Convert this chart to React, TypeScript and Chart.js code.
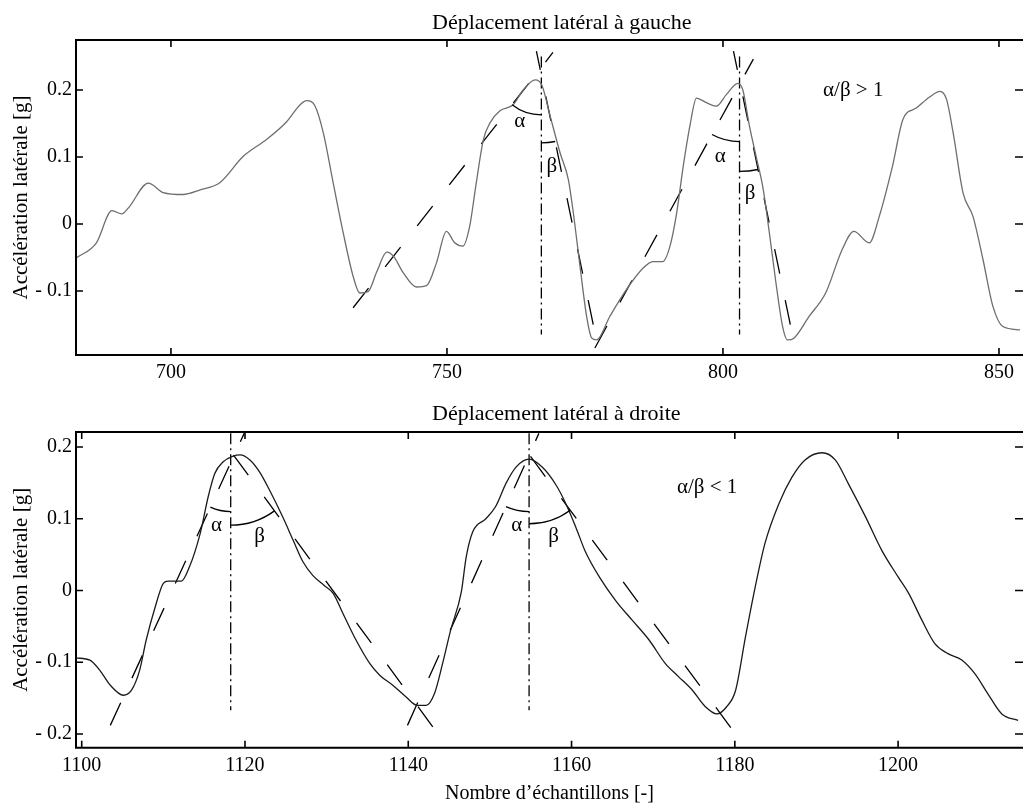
import React, { useEffect, useRef } from 'react';
import { Chart, registerables } from 'chart.js';

Chart.register(...registerables);

const FONT = '"Liberation Serif", "DejaVu Serif", serif';

// ---------- Top panel data ----------
const TOP_TITLE = 'Déplacement latéral à gauche';
const TOP_X_TICKS = [700, 750, 800, 850];
const TOP_Y_TICKS = [-0.1, 0, 0.1, 0.2];
const TOP_X_RANGE = [682.8, 854.35];
const TOP_Y_RANGE = [-0.1955, 0.2746];

const TOP_X = [682.8, 686.5, 689.3, 691.1, 692.3, 695.9, 698.6, 702.2, 705.3, 708.9, 713.1, 717.3, 721, 723.4, 724.6, 726.1, 727.6, 729.4, 731.2, 733, 734.2, 735.7, 737.3, 739.1, 740.3, 742.1, 744.5, 746.3, 748.1, 749.9, 751.4, 752.9, 754.1, 755.3, 756.6, 757.8, 759.6, 762, 763.8, 766, 767.2, 768.7, 770.5, 772, 772.9, 774.1, 775.3, 776.2, 777.1, 779.5, 782.5, 785.5, 787.3, 789.1, 790.4, 791.6, 792.8, 794, 795.2, 797, 798.8, 800.6, 802.7, 803.6, 804.8, 806, 807.2, 808.4, 809.6, 810.8, 811.7, 812.9, 815.6, 818.6, 821.6, 823.7, 826.5, 828.3, 830.7, 832.6, 835, 837.5, 839.3, 840.5, 841.7, 843.5, 845.3, 847.1, 848.9, 850.7, 853.8];
const TOP_Y = [-0.051, -0.028, 0.020, 0.015, 0.024, 0.061, 0.047, 0.044, 0.051, 0.062, 0.101, 0.126, 0.153, 0.178, 0.184, 0.176, 0.136, 0.061, -0.013, -0.078, -0.103, -0.101, -0.071, -0.042, -0.048, -0.073, -0.094, -0.092, -0.058, -0.011, -0.028, -0.033, -0.004, 0.061, 0.126, 0.151, 0.169, 0.178, 0.200, 0.215, 0.207, 0.161, 0.106, 0.066, 0.016, -0.063, -0.138, -0.170, -0.173, -0.138, -0.098, -0.066, -0.056, -0.056, -0.033, 0.016, 0.086, 0.146, 0.188, 0.181, 0.176, 0.193, 0.210, 0.200, 0.146, 0.101, 0.056, -0.013, -0.088, -0.153, -0.173, -0.170, -0.138, -0.103, -0.038, -0.011, -0.028, 0.011, 0.086, 0.156, 0.173, 0.190, 0.198, 0.186, 0.136, 0.046, 0.011, -0.053, -0.123, -0.153, -0.158];

const TOP_TANGENT_X = [[733.0, 769.2], [766.2, 776.5], [776.8, 805.5], [801.9, 812.2]];
const TOP_TANGENT_Y = [[-0.125, 0.256], [0.258, -0.150], [-0.185, 0.246], [0.258, -0.150]];
const TOP_VLINE_X = [767.1, 803.0];
const TOP_VLINE_Y = [0.25, -0.165];

// ---------- Bottom panel data ----------
const BOT_TITLE = 'Déplacement latéral à droite';
const BOT_X_TICKS = [1100, 1120, 1140, 1160, 1180, 1200];
const BOT_Y_TICKS = [-0.2, -0.1, 0, 0.1, 0.2];
const BOT_X_RANGE = [1099.3, 1215.3];
const BOT_Y_RANGE = [-0.2191, 0.2209];

const BOT_X = [1099.3, 1101, 1102.2, 1103.5, 1105.1, 1106.1, 1107.1, 1107.9, 1109, 1110, 1110.6, 1112.2, 1113.2, 1114.5, 1115.5, 1116.3, 1117.3, 1118.5, 1119.4, 1120.6, 1121.8, 1123, 1124.6, 1125.9, 1127.1, 1128.3, 1129.7, 1130.8, 1132, 1133.6, 1135.3, 1136.5, 1138.1, 1139.7, 1141.1, 1142.2, 1143.2, 1144.2, 1145.2, 1146.5, 1147.1, 1147.9, 1149.5, 1150.7, 1152.0, 1153.2, 1154.8, 1156.4, 1158.1, 1159.3, 1160.5, 1161.7, 1163.4, 1165.4, 1167.4, 1169.5, 1171.5, 1173.1, 1174.8, 1176.4, 1177.8, 1179, 1180.1, 1181.3, 1182.5, 1183.7, 1185.4, 1187, 1188.6, 1190.7, 1192.3, 1193.9, 1196, 1198, 1200, 1201.3, 1202.9, 1204.5, 1206.1, 1207.8, 1209.4, 1211, 1212.7, 1214.7];
const BOT_Y = [-0.094, -0.097, -0.111, -0.132, -0.146, -0.139, -0.111, -0.069, -0.023, 0.010, 0.013, 0.013, 0.033, 0.079, 0.131, 0.163, 0.179, 0.187, 0.189, 0.182, 0.165, 0.140, 0.103, 0.070, 0.040, 0.021, 0.007, -0.004, -0.032, -0.069, -0.102, -0.118, -0.132, -0.148, -0.160, -0.160, -0.144, -0.102, -0.055, -0.002, 0.047, 0.082, 0.100, 0.117, 0.150, 0.172, 0.183, 0.172, 0.147, 0.121, 0.089, 0.054, 0.019, -0.014, -0.041, -0.069, -0.102, -0.120, -0.139, -0.162, -0.172, -0.162, -0.139, -0.065, 0.005, 0.066, 0.121, 0.158, 0.182, 0.192, 0.182, 0.149, 0.103, 0.056, 0.019, -0.004, -0.041, -0.074, -0.088, -0.097, -0.116, -0.144, -0.172, -0.181];

const BOT_TANGENT_X = [[1103.5, 1119.9], [1117.1, 1143.0], [1139.9, 1156.0], [1153.6, 1179.5]];
const BOT_TANGENT_Y = [[-0.188, 0.219], [0.212, -0.190], [-0.188, 0.219], [0.208, -0.191]];
const BOT_VLINE_X = [1118.25, 1154.8];
const BOT_VLINE_Y = [0.219, -0.167];

// ---------- annotations (angles and labels, in data units) ----------
const TOP_ARCS = [
  { tangent: 0, vline: 0, meetY: 0.163 },
  { tangent: 1, vline: 0, meetY: 0.121 },
  { tangent: 2, vline: 1, meetY: 0.123 },
  { tangent: 3, vline: 1, meetY: 0.0785 },
];
const BOT_ARCS = [
  { tangent: 0, vline: 0, meetY: 0.110 },
  { tangent: 1, vline: 0, meetY: 0.091 },
  { tangent: 2, vline: 1, meetY: 0.110 },
  { tangent: 3, vline: 1, meetY: 0.093 },
];
const TOP_TEXTS = [
  { text: 'α', x: 763.2, y: 0.153 },
  { text: 'β', x: 769.0, y: 0.086 },
  { text: 'α', x: 799.5, y: 0.101 },
  { text: 'β', x: 804.9, y: 0.046 },
  { text: 'α/β > 1', x: 823.6, y: 0.200 },
];
const BOT_TEXTS = [
  { text: 'α', x: 1116.5, y: 0.091 },
  { text: 'β', x: 1121.8, y: 0.075 },
  { text: 'α', x: 1153.3, y: 0.091 },
  { text: 'β', x: 1157.8, y: 0.075 },
  { text: 'α/β < 1', x: 1176.6, y: 0.144 },
];

const Y_TITLE = 'Accélération latérale [g]';
const X_TITLE = 'Nombre d’échantillons [-]';

const yLabel = (v: number) => (v < 0 ? '- ' + Math.abs(v) : String(v));

const pts = (xs: number[], ys: number[]) => xs.map((x, i) => ({ x, y: ys[i] }));

interface PanelSpec {
  title: string;
  titleBaseline: number;
  xs: number[];
  ys: number[];
  curveColor: string;
  xTicks: number[];
  yTicks: number[];
  xRange: number[];
  yRange: number[];
  tangentX: number[][];
  tangentY: number[][];
  vlineX: number[];
  vlineY: number[];
  arcs: { tangent: number; vline: number; meetY: number }[];
  texts: { text: string; x: number; y: number }[];
  height: number;
  plotBottom: number;
  xTitle: string | null;
}

function buildConfig(spec: PanelSpec): any {
  const datasets: any[] = [
    {
      data: pts(spec.xs, spec.ys),
      showLine: true,
      pointRadius: 0,
      borderColor: spec.curveColor,
      borderWidth: 1.3,
      cubicInterpolationMode: 'monotone',
    },
  ];
  spec.tangentX.forEach((tx, i) => {
    const ty = spec.tangentY[i];
    const order = ty[0] < ty[1] ? [0, 1] : [1, 0];
    datasets.push({
      data: order.map((k) => ({ x: tx[k], y: ty[k] })),
      showLine: true,
      pointRadius: 0,
      borderColor: '#000',
      borderWidth: 1.3,
      borderDash: [25, 27],
    });
  });
  spec.vlineX.forEach((vx) => {
    datasets.push({
      data: spec.vlineY.map((y) => ({ x: vx, y })),
      showLine: true,
      pointRadius: 0,
      borderColor: '#000',
      borderWidth: 1.3,
      borderDash: [11, 4, 2, 4],
    });
  });

  const framePlugin = {
    id: 'frame',
    afterDraw(chart: any) {
      const { ctx, chartArea: a } = chart;
      const xs = chart.scales.x;
      const ys = chart.scales.y;
      ctx.save();
      ctx.strokeStyle = '#000';
      ctx.lineWidth = 2;
      ctx.beginPath();
      ctx.moveTo(a.right + 2, a.top);
      ctx.lineTo(a.left, a.top);
      ctx.lineTo(a.left, a.bottom);
      ctx.lineTo(a.right + 2, a.bottom);
      ctx.stroke();
      ctx.lineWidth = 1.6;
      const L = 7;
      spec.xTicks.forEach((v) => {
        const px = xs.getPixelForValue(v);
        ctx.beginPath();
        ctx.moveTo(px, a.bottom);
        ctx.lineTo(px, a.bottom - L);
        ctx.moveTo(px, a.top);
        ctx.lineTo(px, a.top + L);
        ctx.stroke();
      });
      spec.yTicks.forEach((v) => {
        const py = ys.getPixelForValue(v);
        ctx.beginPath();
        ctx.moveTo(a.left, py);
        ctx.lineTo(a.left + L, py);
        ctx.moveTo(a.right, py);
        ctx.lineTo(a.right - L - 1, py);
        ctx.stroke();
      });
      // panel title
      ctx.fillStyle = '#000';
      ctx.font = `22px ${FONT}`;
      ctx.textAlign = 'left';
      ctx.textBaseline = 'alphabetic';
      ctx.fillText(spec.title, 432, spec.titleBaseline);
      ctx.restore();
    },
  };

  const annotPlugin = {
    id: 'annot',
    afterDatasetsDraw(chart: any) {
      const { ctx } = chart;
      const xs = chart.scales.x;
      const ys = chart.scales.y;
      ctx.save();
      ctx.strokeStyle = '#000';
      ctx.lineWidth = 1.3;
      spec.arcs.forEach((arc) => {
        const tx = spec.tangentX[arc.tangent];
        const ty = spec.tangentY[arc.tangent];
        const p0 = { x: xs.getPixelForValue(tx[0]), y: ys.getPixelForValue(ty[0]) };
        const p1 = { x: xs.getPixelForValue(tx[1]), y: ys.getPixelForValue(ty[1]) };
        const vx = xs.getPixelForValue(spec.vlineX[arc.vline]);
        const t = (vx - p0.x) / (p1.x - p0.x);
        const cy = p0.y + t * (p1.y - p0.y);
        const low = p0.y > p1.y ? p0 : p1;
        const r = ys.getPixelForValue(arc.meetY) - cy;
        const angLine = Math.atan2(low.y - cy, low.x - vx);
        const angDown = Math.PI / 2;
        ctx.beginPath();
        ctx.arc(vx, cy, r, Math.min(angLine, angDown), Math.max(angLine, angDown));
        ctx.stroke();
      });
      ctx.fillStyle = '#000';
      ctx.font = `21px ${FONT}`;
      ctx.textAlign = 'center';
      ctx.textBaseline = 'middle';
      spec.texts.forEach((tx) => {
        ctx.fillText(tx.text, xs.getPixelForValue(tx.x), ys.getPixelForValue(tx.y));
      });
      ctx.restore();
    },
  };

  return {
    type: 'scatter',
    data: { datasets },
    plugins: [annotPlugin, framePlugin],
    options: {
      responsive: false,
      animation: false,
      events: [],
      layout: { padding: { top: 40, left: 0, right: 0, bottom: 0 } },
      plugins: { legend: { display: false }, tooltip: { enabled: false }, title: { display: false } },
      scales: {
        x: {
          type: 'linear',
          min: spec.xRange[0],
          max: spec.xRange[1],
          grid: { display: false, drawTicks: false },
          border: { display: false },
          afterBuildTicks: (s: any) => {
            s.ticks = spec.xTicks.map((v) => ({ value: v }));
          },
          afterFit: (s: any) => {
            s.height = spec.height - spec.plotBottom;
          },
          ticks: {
            padding: 6,
            color: '#000',
            maxRotation: 0,
            autoSkip: false,
            font: { family: FONT, size: 20 },
            callback: (v: any) => String(v),
          },
          title: spec.xTitle
            ? {
                display: true,
                text: spec.xTitle,
                color: '#000',
                font: { family: FONT, size: 20 },
                padding: { top: 0, bottom: 1 },
              }
            : { display: false },
        },
        y: {
          type: 'linear',
          min: spec.yRange[0],
          max: spec.yRange[1],
          grid: { display: false, drawTicks: false },
          border: { display: false },
          afterBuildTicks: (s: any) => {
            s.ticks = spec.yTicks.map((v) => ({ value: v }));
          },
          afterFit: (s: any) => {
            s.width = 76;
          },
          ticks: {
            padding: 4,
            color: '#000',
            autoSkip: false,
            font: { family: FONT, size: 20 },
            callback: (v: any) => yLabel(Number(v)),
          },
          title: {
            display: true,
            text: Y_TITLE,
            color: '#000',
            font: { family: FONT, size: 21 },
            padding: { top: 9, bottom: 0 },
          },
        },
      },
    },
  };
}

function Panel({ spec, top }: { spec: PanelSpec; top: number }) {
  const ref = useRef<HTMLCanvasElement | null>(null);
  useEffect(() => {
    if (!ref.current) return;
    const chart = new Chart(ref.current, buildConfig(spec));
    return () => chart.destroy();
  }, [spec]);
  return (
    <canvas
      ref={ref}
      width={1023}
      height={spec.height}
      style={{ position: 'absolute', left: 0, top, width: 1023, height: spec.height, display: 'block' }}
    />
  );
}

const TOP_SPEC: PanelSpec = {
  title: TOP_TITLE,
  titleBaseline: 29,
  xs: TOP_X,
  ys: TOP_Y,
  curveColor: '#6e6e6e',
  xTicks: TOP_X_TICKS,
  yTicks: TOP_Y_TICKS,
  xRange: TOP_X_RANGE,
  yRange: TOP_Y_RANGE,
  tangentX: TOP_TANGENT_X,
  tangentY: TOP_TANGENT_Y,
  vlineX: TOP_VLINE_X,
  vlineY: TOP_VLINE_Y,
  arcs: TOP_ARCS,
  texts: TOP_TEXTS,
  height: 392,
  plotBottom: 355,
  xTitle: null,
};

const BOT_SPEC: PanelSpec = {
  title: BOT_TITLE,
  titleBaseline: 27.5,
  xs: BOT_X,
  ys: BOT_Y,
  curveColor: '#1a1a1a',
  xTicks: BOT_X_TICKS,
  yTicks: BOT_Y_TICKS,
  xRange: BOT_X_RANGE,
  yRange: BOT_Y_RANGE,
  tangentX: BOT_TANGENT_X,
  tangentY: BOT_TANGENT_Y,
  vlineX: BOT_VLINE_X,
  vlineY: BOT_VLINE_Y,
  arcs: BOT_ARCS,
  texts: BOT_TEXTS,
  height: 415,
  plotBottom: 355.7,
  xTitle: X_TITLE,
};

export default function App() {
  return (
    <div style={{ position: 'absolute', left: 0, top: 0, width: 1023, height: 807, background: '#fff', overflow: 'hidden' }}>
      <Panel spec={TOP_SPEC} top={0} />
      <Panel spec={BOT_SPEC} top={392} />
    </div>
  );
}
